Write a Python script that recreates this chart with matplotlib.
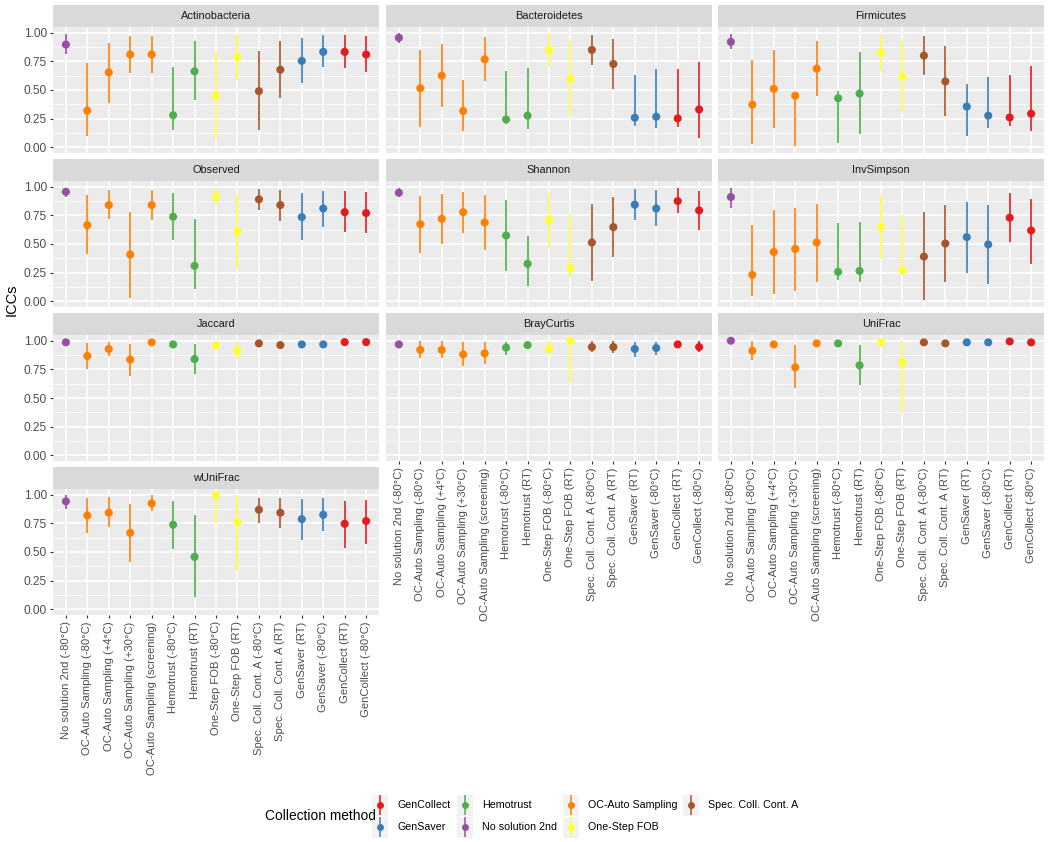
import numpy as np
import matplotlib
matplotlib.use("Agg")
import matplotlib.pyplot as plt
from matplotlib.patches import Rectangle

plt.rcParams['font.family'] = ['Liberation Sans', 'DejaVu Sans']

W, H = 1050, 842

samples = ["No solution 2nd (-80°C)", "OC-Auto Sampling (-80°C)", "OC-Auto Sampling (+4°C)",
           "OC-Auto Sampling (+30°C)", "OC-Auto Sampling (screening)", "Hemotrust (-80°C)",
           "Hemotrust (RT)", "One-Step FOB (-80°C)", "One-Step FOB (RT)",
           "Spec. Coll. Cont. A (-80°C)", "Spec. Coll. Cont. A (RT)", "GenSaver (RT)",
           "GenSaver (-80°C)", "GenCollect (RT)", "GenCollect (-80°C)"]
sample_method = ["No solution 2nd", "OC-Auto Sampling", "OC-Auto Sampling", "OC-Auto Sampling",
                 "OC-Auto Sampling", "Hemotrust", "Hemotrust", "One-Step FOB", "One-Step FOB",
                 "Spec. Coll. Cont. A", "Spec. Coll. Cont. A", "GenSaver", "GenSaver",
                 "GenCollect", "GenCollect"]

methods = ["GenCollect", "GenSaver", "Hemotrust", "No solution 2nd",
           "OC-Auto Sampling", "One-Step FOB", "Spec. Coll. Cont. A"]
method_colors = ["#E41A1C", "#377EB8", "#4DAF4A", "#984EA3", "#FF7F00", "#FFFF33", "#A65628"]

actino_icc = [0.897, 0.32, 0.654, 0.81, 0.81, 0.28, 0.663, 0.45, 0.786, 0.49, 0.677, 0.754, 0.833, 0.833, 0.81]
actino_lo = [0.81, 0.10, 0.39, 0.648, 0.648, 0.147, 0.41, 0.07, 0.59, 0.147, 0.43, 0.557, 0.70, 0.69, 0.654]
actino_hi = [0.985, 0.736, 0.912, 0.97, 0.97, 0.70, 0.924, 0.83, 0.98, 0.84, 0.927, 0.95, 0.977, 0.977, 0.97]

bactero_icc = [0.956, 0.516, 0.625, 0.317, 0.768, 0.243, 0.276, 0.85, 0.598, 0.85, 0.727, 0.258, 0.267, 0.252, 0.33]
bactero_lo = [0.91, 0.18, 0.35, 0.14, 0.58, 0.20, 0.158, 0.713, 0.27, 0.72, 0.51, 0.188, 0.17, 0.176, 0.082]
bactero_hi = [1.0, 0.85, 0.903, 0.59, 0.96, 0.668, 0.69, 0.997, 0.924, 0.977, 0.944, 0.63, 0.683, 0.683, 0.742]

firmi_icc = [0.92, 0.372, 0.51, 0.45, 0.686, 0.428, 0.469, 0.827, 0.616, 0.80, 0.575, 0.355, 0.276, 0.26, 0.293]
firmi_lo = [0.86, 0.032, 0.17, 0.015, 0.449, 0.035, 0.117, 0.668, 0.31, 0.633, 0.27, 0.10, 0.17, 0.19, 0.14]
firmi_hi = [0.99, 0.765, 0.845, 0.46, 0.932, 0.49, 0.83, 0.982, 0.932, 0.97, 0.88, 0.55, 0.61, 0.633, 0.713]

obs_icc = [0.956, 0.665, 0.84, 0.408, 0.84, 0.738, 0.309, 0.913, 0.606, 0.89, 0.84, 0.735, 0.81, 0.778, 0.77]
obs_lo = [0.91, 0.41, 0.714, 0.03, 0.708, 0.536, 0.11, 0.837, 0.286, 0.796, 0.705, 0.536, 0.65, 0.603, 0.595]
obs_hi = [0.99, 0.924, 0.974, 0.78, 0.974, 0.945, 0.714, 0.99, 0.924, 0.982, 0.974, 0.945, 0.965, 0.959, 0.953]

shannon_icc = [0.948, 0.673, 0.72, 0.778, 0.688, 0.574, 0.327, 0.706, 0.286, 0.513, 0.647, 0.843, 0.81, 0.875, 0.793]
shannon_lo = [0.91, 0.423, 0.496, 0.595, 0.446, 0.262, 0.134, 0.466, 0.204, 0.175, 0.385, 0.706, 0.656, 0.77, 0.624]
shannon_hi = [0.99, 0.918, 0.94, 0.953, 0.927, 0.88, 0.574, 0.948, 0.758, 0.85, 0.913, 0.977, 0.968, 0.985, 0.962]

invsimp_icc = [0.91, 0.23, 0.43, 0.457, 0.513, 0.257, 0.265, 0.647, 0.271, 0.39, 0.504, 0.56, 0.496, 0.729, 0.618]
invsimp_lo = [0.816, 0.05, 0.064, 0.087, 0.166, 0.19, 0.169, 0.373, 0.262, 0.01, 0.169, 0.248, 0.152, 0.516, 0.327]
invsimp_hi = [0.985, 0.665, 0.80, 0.816, 0.85, 0.682, 0.688, 0.927, 0.752, 0.776, 0.84, 0.869, 0.84, 0.945, 0.895]

jaccard_icc = [0.986, 0.867, 0.928, 0.835, 0.986, 0.968, 0.84, 0.96, 0.913, 0.977, 0.962, 0.968, 0.968, 0.988, 0.988]
jaccard_lo = [0.975, 0.754, 0.864, 0.69, 0.978, 0.955, 0.707, 0.945, 0.84, 0.965, 0.933, 0.955, 0.955, 0.978, 0.978]
jaccard_hi = [0.995, 0.98, 0.99, 0.974, 0.994, 0.98, 0.97, 0.975, 0.994, 0.99, 0.99, 0.98, 0.98, 0.996, 0.996]

bray_icc = [0.968, 0.92, 0.92, 0.88, 0.89, 0.94, 0.962, 0.93, 1.0, 0.945, 0.945, 0.928, 0.936, 0.968, 0.945]
bray_lo = [0.94, 0.85, 0.852, 0.777, 0.794, 0.875, 0.933, 0.88, 0.643, 0.9, 0.893, 0.855, 0.875, 0.94, 0.9]
bray_hi = [1.0, 0.994, 0.994, 0.986, 0.986, 0.99, 0.99, 0.997, 1.0, 0.997, 0.997, 0.99, 0.99, 0.997, 1.0]

unifrac_icc = [1.0, 0.913, 0.968, 0.768, 0.977, 0.977, 0.785, 0.986, 0.81, 0.986, 0.977, 0.986, 0.986, 0.994, 0.986]
unifrac_lo = [0.99, 0.835, 0.958, 0.588, 0.967, 0.965, 0.61, 0.975, 0.377, 0.975, 0.965, 0.977, 0.977, 0.985, 0.977]
unifrac_hi = [1.0, 0.994, 0.978, 0.962, 0.987, 0.987, 0.962, 0.995, 1.0, 0.995, 0.987, 0.994, 0.994, 1.0, 0.994]

wuni_icc = [0.942, 0.819, 0.843, 0.668, 0.924, 0.738, 0.458, 0.997, 0.761, 0.869, 0.843, 0.787, 0.825, 0.746, 0.77]
wuni_lo = [0.878, 0.668, 0.717, 0.417, 0.854, 0.528, 0.105, 0.755, 0.332, 0.755, 0.708, 0.609, 0.682, 0.536, 0.57]
wuni_hi = [0.994, 0.971, 0.98, 0.921, 0.994, 0.945, 0.819, 1.0, 1.0, 0.974, 0.974, 0.959, 0.968, 0.945, 0.95]

panels = [
    ("Actinobacteria", actino_icc, actino_lo, actino_hi),
    ("Bacteroidetes", bactero_icc, bactero_lo, bactero_hi),
    ("Firmicutes", firmi_icc, firmi_lo, firmi_hi),
    ("Observed", obs_icc, obs_lo, obs_hi),
    ("Shannon", shannon_icc, shannon_lo, shannon_hi),
    ("InvSimpson", invsimp_icc, invsimp_lo, invsimp_hi),
    ("Jaccard", jaccard_icc, jaccard_lo, jaccard_hi),
    ("BrayCurtis", bray_icc, bray_lo, bray_hi),
    ("UniFrac", unifrac_icc, unifrac_lo, unifrac_hi),
    ("wUniFrac", wuni_icc, wuni_lo, wuni_hi),
]

col_of = dict(zip(methods, method_colors))
colors = [col_of[m] for m in sample_method]
x = np.arange(len(samples))


def px_rect(x0, y0, w, h):
    return [x0 / W, 1 - (y0 + h) / H, w / W, h / H]


fig = plt.figure(figsize=(W / 100, H / 100), dpi=100)

col_x = [53, 386, 718]
pw = 326
strip_h = 22
plot_h = 126
row_step = 154
n_panels = len(panels)

for k, (name, icc, lo, hi) in enumerate(panels):
    r, c = divmod(k, 3)
    top = 5 + r * row_step
    # strip
    sax = fig.add_axes(px_rect(col_x[c], top, pw, strip_h))
    sax.set_facecolor("#D9D9D9")
    sax.set_xticks([])
    sax.set_yticks([])
    for s in sax.spines.values():
        s.set_visible(False)
    sax.text(0.5, 0.48, name, ha="center", va="center", fontsize=7.9, color="#1A1A1A",
             transform=sax.transAxes)

    ax = fig.add_axes(px_rect(col_x[c], top + strip_h, pw, plot_h))
    ax.set_facecolor("#EBEBEB")
    for s in ax.spines.values():
        s.set_visible(False)
    ax.set_xlim(-0.6, len(samples) - 0.4)
    ax.set_ylim(-0.05, 1.05)
    ax.set_yticks([0, 0.25, 0.5, 0.75, 1.0])
    ax.set_yticks([0.125, 0.375, 0.625, 0.875], minor=True)
    ax.set_xticks(x)
    ax.grid(which="major", color="white", linewidth=1.1, zorder=0)
    ax.grid(which="minor", axis="y", color="white", linewidth=0.55, zorder=0)
    ax.set_axisbelow(True)
    ax.tick_params(which="minor", length=0)
    ax.tick_params(which="major", length=2.5, width=0.8, color="#333333",
                   labelsize=8.1, labelcolor="#4D4D4D", pad=2)

    for i in range(len(samples)):
        ax.vlines(x[i], lo[i], hi[i], color=colors[i], linewidth=1.4, alpha=0.85, zorder=2)
    ax.scatter(x, icc, c=colors, s=34, zorder=3, linewidths=0)

    if c == 0:
        ax.set_yticklabels(["0.00", "0.25", "0.50", "0.75", "1.00"])
        ax.tick_params(axis="y", labelsize=8.6)
    else:
        ax.tick_params(axis="y", length=0)
        ax.set_yticklabels([])

    bottom_row = k + 3 >= n_panels
    if bottom_row:
        ax.set_xticklabels(samples, rotation=90)
    else:
        ax.tick_params(axis="x", length=0)
        ax.set_xticklabels([])

fig.text(12 / W, 1 - 300 / H, "ICCs", rotation=90, ha="center", va="center",
         fontsize=10.5, color="black")

# legend
lax = fig.add_axes([0, 0, 1, 1], facecolor="none")
lax.set_xlim(0, W)
lax.set_ylim(H, 0)
lax.axis("off")
lax.text(265, 816, "Collection method", ha="left", va="center", fontsize=9.9, color="black")
key_x = [372, 457, 563, 683]
for j, (m, col) in enumerate(zip(methods, method_colors)):
    cc, rr = divmod(j, 2)
    kx = key_x[cc]
    ky = 805 + rr * 22
    lax.add_patch(Rectangle((kx, ky - 10.5), 16, 21, facecolor="#F2F2F2", edgecolor="none"))
    lax.plot([kx + 8, kx + 8], [ky - 9, ky + 9], color=col, linewidth=1.3, alpha=0.85)
    lax.plot(kx + 8, ky, "o", color=col, markersize=5, markeredgewidth=0)
    lax.text(kx + 25, ky, m, ha="left", va="center", fontsize=7.7, color="black")

fig.savefig("out.png", dpi=100)
